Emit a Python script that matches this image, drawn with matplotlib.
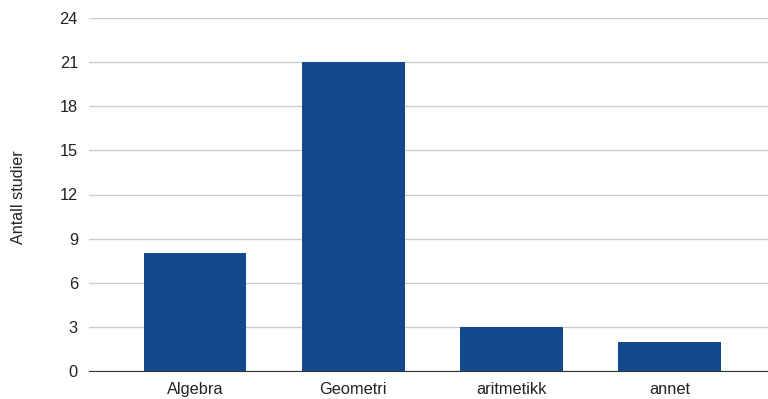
import matplotlib.pyplot as plt

# antall studier per tema
categories = ['Algebra', 'Geometri', 'aritmetikk', 'annet']
counts = [8, 21, 3, 2]
yticks = [0, 3, 6, 9, 12, 15, 18, 21, 24]

plt.rcParams['font.family'] = ['Liberation Sans', 'DejaVu Sans']

fig = plt.figure(figsize=(7.68, 3.99), dpi=100)
ax = fig.add_axes([89 / 768, 28 / 399, (768 - 89) / 768, (371 - 18) / 399])

x = range(len(categories))
ax.bar(x, counts, width=0.65, color='#134a8e', zorder=3)

ax.set_xlim(-0.67, 3.62)
ax.set_ylim(0, 24)
ax.set_yticks(yticks)
ax.set_xticks(list(x))
ax.set_xticklabels(categories)
ax.tick_params(axis='both', length=0, labelsize=11.8, colors='#222222')
ax.tick_params(axis='y', pad=8)
ax.tick_params(axis='x', pad=8)

ax.grid(axis='y', color='#cccccc', linewidth=1, zorder=0)
for side in ['top', 'right', 'left']:
    ax.spines[side].set_visible(False)
ax.spines['bottom'].set_color('#333333')
ax.spines['bottom'].set_zorder(4)

fig.text(19 / 768, (399 - 197) / 399, 'Antall studier', rotation=90,
         ha='center', va='center', fontsize=11.6, color='#222222')

fig.savefig('out.png', dpi=100)
